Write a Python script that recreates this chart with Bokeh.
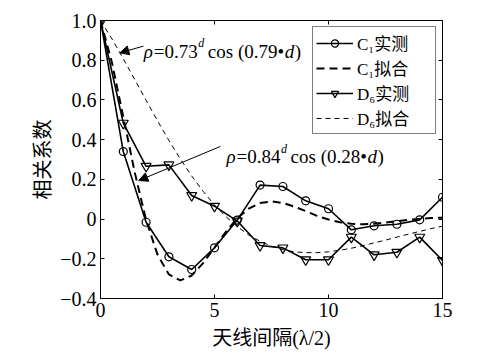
from bokeh.plotting import figure
from bokeh.models import (FixedTicker, LinearAxis, Legend, LegendItem, Label,
                          Arrow, NormalHead, CustomJSTickFormatter, Range1d)
from bokeh.embed import file_html
from bokeh.resources import INLINE

# ---------------- data ----------------
d_meas = [0, 1, 2, 3, 4, 5, 6, 7, 8, 9, 10, 11, 12, 13, 14, 15]
c1_meas = [1.0, 0.34, -0.016, -0.19, -0.254, -0.145, -0.005, 0.171, 0.164,
           0.092, 0.052, -0.054, -0.034, -0.026, -0.004, 0.110]
d6_meas = [1.0, 0.483, 0.266, 0.273, 0.119, 0.065, -0.01, -0.133, -0.145,
           -0.205, -0.205, -0.091, -0.180, -0.167, -0.091, -0.208]

d_fit = [0, 0.5, 1, 1.5, 2, 2.5, 3, 3.5, 4, 4.5, 5, 5.5, 6, 6.5, 7, 7.5, 8,
         8.5, 9, 9.5, 10, 10.5, 11, 11.5, 12, 12.5, 13, 13.5, 14, 14.5, 15]
c1_fit = [1.0, 0.789, 0.514, 0.236, -0.005, -0.179, -0.279, -0.309, -0.284,
          -0.222, -0.144, -0.064, 0.004, 0.053, 0.081, 0.089, 0.081, 0.063,
          0.040, 0.016, -0.002, -0.016, -0.024, -0.026, -0.023, -0.018,
          -0.011, -0.004, 0.001, 0.005, 0.007]
d6_fit = [1.0, 0.908, 0.807, 0.703, 0.598, 0.495, 0.396, 0.303, 0.217,
          0.140, 0.071, 0.012, -0.038, -0.080, -0.112, -0.137, -0.154,
          -0.165, -0.169, -0.169, -0.165, -0.157, -0.147, -0.134, -0.120,
          -0.106, -0.091, -0.076, -0.062, -0.048, -0.036]

x_ticks = [0, 5, 10, 15]
y_ticks = [-0.4, -0.2, 0, 0.2, 0.4, 0.6, 0.8, 1.0]
x_label = "天线间隔(λ/2)"
y_label = "相关系数"
legend_labels = ["C₁实测", "C₁拟合", "D₆实测", "D₆拟合"]
ann1_parts = ["ρ", "=0.73", "d", "cos (0.79•", "d", ")"]
ann2_parts = ["ρ", "=0.84", "d", "cos (0.28•", "d", ")"]

SERIF = "'Liberation Serif', 'Times New Roman', serif"
CJK = "'Liberation Serif', 'Noto Sans CJK SC', serif"

# ---------------- figure ----------------
p = figure(width=503, height=354, x_range=Range1d(0, 15), y_range=Range1d(-0.4, 1.0),
           output_backend="svg", toolbar_location=None,
           min_border_left=100, min_border_right=61, min_border_top=20,
           min_border_bottom=56)
p.background_fill_color = "white"
p.border_fill_color = "white"
p.outline_line_color = "black"
p.outline_line_width = 1
p.xgrid.visible = False
p.ygrid.visible = False

fmt_y = CustomJSTickFormatter(code="""
if (Math.abs(tick) < 1e-9) return "0";
if (tick < 0) return "\u2212" + (-tick).toFixed(1);
return tick.toFixed(1);
""")
fmt_x = CustomJSTickFormatter(code="return Math.round(tick).toString();")
fmt_none = CustomJSTickFormatter(code="return '';")

def style_axis(ax, ticks, show_labels):
    ax.ticker = FixedTicker(ticks=ticks)
    ax.major_tick_in = 4
    ax.major_tick_out = 0
    ax.minor_tick_line_color = None
    ax.major_tick_line_color = "black"
    ax.axis_line_color = "black"
    ax.major_label_text_font = SERIF
    ax.major_label_text_color = "black"
    if show_labels:
        ax.major_label_text_font_size = "20px"
    else:
        ax.formatter = fmt_none
        ax.major_label_text_font_size = "1px"
        ax.major_label_standoff = 0
        ax.axis_line_color = None

xa = p.xaxis[0]
ya = p.yaxis[0]
style_axis(xa, x_ticks, True)
style_axis(ya, y_ticks, True)
xa.formatter = fmt_x
ya.formatter = fmt_y
xa.major_label_standoff = 4
ya.major_label_standoff = 4
xa.axis_label = x_label
ya.axis_label = y_label
for ax in (xa, ya):
    ax.axis_label_text_font = CJK
    ax.axis_label_text_font_size = "20px"
    ax.axis_label_text_font_style = "normal"
    ax.axis_label_text_color = "black"
xa.axis_label_standoff = 7
ya.axis_label_standoff = 3

top_ax = LinearAxis()
style_axis(top_ax, x_ticks, False)
p.add_layout(top_ax, "above")
right_ax = LinearAxis()
style_axis(right_ax, y_ticks, False)
p.add_layout(right_ax, "right")

# ---------------- series ----------------
l_c1 = p.line(d_meas, c1_meas, line_color="black", line_width=1.6)
s_c1 = p.scatter(d_meas, c1_meas, marker="circle", size=8, fill_color=None,
                 line_color="black", line_width=1.2)
l_c1f = p.line(d_fit, c1_fit, line_color="black", line_width=2, line_dash="8 5")
l_d6 = p.line(d_meas, d6_meas, line_color="black", line_width=1.6)
s_d6 = p.scatter(d_meas, d6_meas, marker="inverted_triangle", size=10, fill_color=None,
                 line_color="black", line_width=1.2)
l_d6f = p.line(d_fit, d6_fit, line_color="black", line_width=1, line_dash="5 4")

legend = Legend(items=[
    LegendItem(label=legend_labels[0], renderers=[l_c1, s_c1]),
    LegendItem(label=legend_labels[1], renderers=[l_c1f]),
    LegendItem(label=legend_labels[2], renderers=[l_d6, s_d6]),
    LegendItem(label=legend_labels[3], renderers=[l_d6f]),
], location="top_right")
legend.margin = 6
legend.padding = 3
legend.spacing = 0
legend.glyph_width = 37
legend.glyph_height = 18
legend.label_height = 18
legend.label_width = 75
legend.label_standoff = 4
legend.label_text_font = CJK
legend.label_text_font_size = "17px"
legend.label_text_color = "black"
legend.border_line_color = "black"
legend.border_line_width = 1
legend.background_fill_color = "white"
legend.background_fill_alpha = 1
p.add_layout(legend)

# ---------------- annotations ----------------
def add_formula(parts, x, y):
    offsets = [0, 10, 54.5, 64, 141, 151]
    for i, t in enumerate(parts):
        italic = i in (0, 2, 4)
        size = "12px" if i == 2 else "19px"
        yoff = 8 if i == 2 else 0
        p.add_layout(Label(x=x, y=y, x_offset=offsets[i], y_offset=yoff, text=t,
                           text_font=SERIF, text_font_size=size,
                           text_font_style="italic" if italic else "normal",
                           text_color="black", text_baseline="alphabetic",
                           text_align="left"))

add_formula(ann1_parts, 1.90, 0.844)
add_formula(ann2_parts, 5.53, 0.315)

p.add_layout(Arrow(x_start=1.88, y_start=0.871, x_end=0.85, y_end=0.837,
                   line_color="black", line_width=1,
                   end=NormalHead(size=9, fill_color="black", line_color="black")))
p.add_layout(Arrow(x_start=5.26, y_start=0.366, x_end=1.68, y_end=0.194,
                   line_color="black", line_width=1,
                   end=NormalHead(size=9, fill_color="black", line_color="black")))

open("out.html", "w").write(file_html(p, INLINE))
